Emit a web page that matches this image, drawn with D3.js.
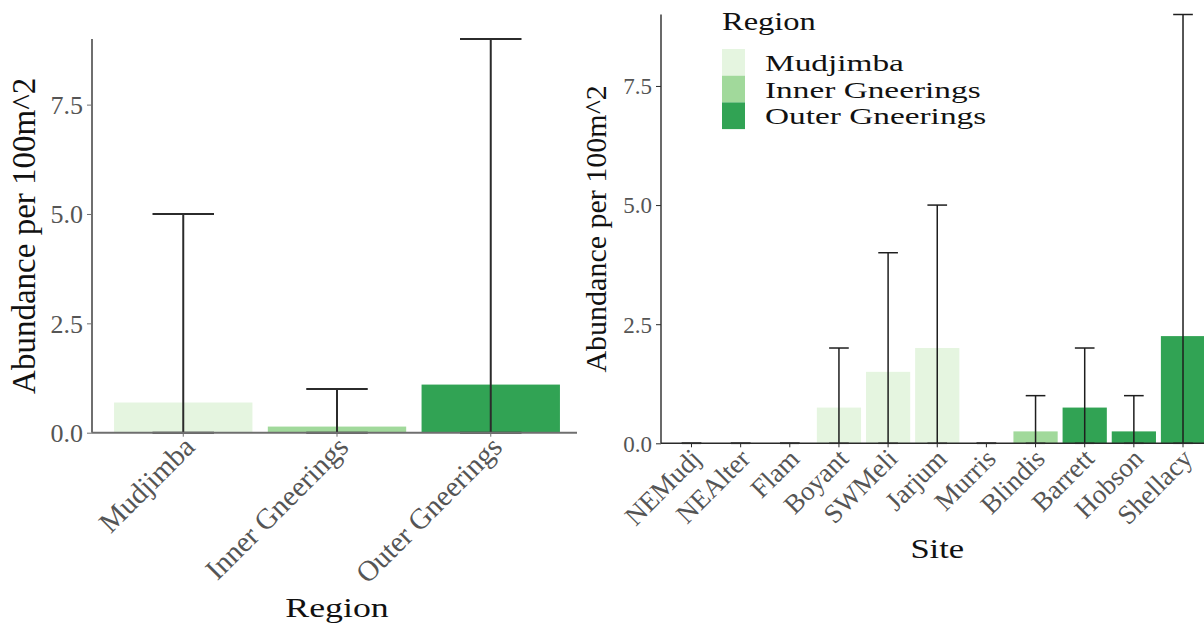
<!DOCTYPE html>
<html>
<head>
<meta charset="utf-8">
<script src="https://cdn.jsdelivr.net/npm/d3@7"></script>
<style>
  body { margin: 0; background: #fff; }
  svg { display: block; }
  text { font-family: "Liberation Serif", "Times New Roman", serif; }
</style>
</head>
<body>
<svg id="chart" width="1204" height="624"></svg>
<script>
// Abundance by region
const regions      = ["Mudjimba", "Inner Gneerings", "Outer Gneerings"];
const regionMeans  = [0.69, 0.14, 1.1];
const regionLower  = [0, 0, 0];
const regionUpper  = [5, 1, 9];

// Abundance by site
const sites       = ["NEMudj", "NEAlter", "Flam", "Boyant", "SWMeli", "Jarjum", "Murris", "Blindis", "Barrett", "Hobson", "Shellacy"];
const siteRegion  = ["Mudjimba", "Mudjimba", "Mudjimba", "Mudjimba", "Mudjimba", "Mudjimba", "Mudjimba", "Inner Gneerings", "Outer Gneerings", "Outer Gneerings", "Outer Gneerings"];
const siteMeans   = [0, 0, 0, 0.75, 1.5, 2, 0, 0.25, 0.75, 0.25, 2.25];
const siteLower   = [0, 0, 0, 0, 0, 0, 0, 0, 0, 0, 0];
const siteUpper   = [0, 0, 0, 2, 4, 5, 0, 1, 2, 1, 9];

const yTicks = [0, 2.5, 5, 7.5];
const yMax = 9;
const yTitle = "Abundance per 100m^2";
const regionColors = ["#e5f5e0", "#a1d99b", "#31a354"];

const svg = d3.select("#chart");
const colour = d3.scaleOrdinal().domain(regions).range(regionColors);

function stretchedText(g, x, y, str, size, sx, anchor, fill) {
  return g.append("text")
    .attr("transform", `translate(${x},${y}) scale(${sx},1)`)
    .attr("text-anchor", anchor)
    .attr("font-size", size)
    .attr("fill", fill)
    .text(str);
}

function drawPanel(cfg) {
  const g = svg.append("g");
  const x = d3.scaleBand()
    .domain(cfg.cats)
    .range([cfg.x0, cfg.x1])
    .paddingInner(0.1)
    .paddingOuter(0.15);
  const y = d3.scaleLinear().domain([0, yMax]).range([cfg.yBottom, cfg.yTop]);
  const data = cfg.cats.map((c, i) => ({
    cat: c, mean: cfg.means[i], lo: cfg.lower[i], hi: cfg.upper[i], region: cfg.region[i]
  }));

  // bars
  g.append("g").selectAll("rect").data(data).join("rect")
    .attr("x", d => x(d.cat))
    .attr("width", x.bandwidth())
    .attr("y", d => y(d.mean))
    .attr("height", d => y(0) - y(d.mean))
    .attr("fill", d => colour(d.region));

  // error bars
  const capW = x.step() * 0.4;
  const eb = g.append("g").attr("stroke", cfg.errColor).attr("stroke-width", cfg.errWidth);
  const cx = d => x(d.cat) + x.bandwidth() / 2;
  eb.selectAll("line.v").data(data).join("line").attr("class", "v")
    .attr("x1", cx).attr("x2", cx)
    .attr("y1", d => y(d.lo)).attr("y2", d => y(d.hi));
  eb.selectAll("line.top").data(data).join("line").attr("class", "top")
    .attr("x1", d => cx(d) - capW / 2).attr("x2", d => cx(d) + capW / 2)
    .attr("y1", d => y(d.hi)).attr("y2", d => y(d.hi));
  eb.selectAll("line.bot").data(data).join("line").attr("class", "bot")
    .attr("x1", d => cx(d) - capW / 2).attr("x2", d => cx(d) + capW / 2)
    .attr("y1", d => y(d.lo)).attr("y2", d => y(d.lo));

  // y axis
  const ya = g.append("g")
    .attr("transform", `translate(${cfg.axisX},0)`)
    .call(d3.axisLeft(y).tickValues(yTicks).tickFormat(d3.format(".1f")).tickSize(5).tickPadding(4).tickSizeOuter(0));
  ya.select(".domain").remove();
  ya.selectAll(".tick line").attr("stroke", cfg.axisColor).attr("stroke-width", 1);
  ya.selectAll(".tick text").attr("font-size", cfg.tickSize).attr("fill", "#555")
    .attr("font-family", '"Liberation Serif", serif').attr("dy", "0.34em");
  g.append("line")
    .attr("x1", cfg.axisX).attr("x2", cfg.axisX)
    .attr("y1", y(yMax)).attr("y2", y(0))
    .attr("stroke", cfg.axisColor).attr("stroke-width", cfg.axisWidth);

  // x axis
  const xa = g.append("g")
    .attr("transform", `translate(0,${y(0)})`)
    .call(d3.axisBottom(x).tickSize(4).tickSizeOuter(0));
  xa.select(".domain").remove();
  xa.selectAll(".tick line").attr("stroke", cfg.axisColor).attr("stroke-width", 1);
  xa.selectAll(".tick text")
    .attr("x", null).attr("y", null).attr("dy", null)
    .attr("text-anchor", "end")
    .attr("transform", `translate(${cfg.labelDx},${cfg.labelDy}) rotate(-45)`)
    .attr("font-size", cfg.labelSize).attr("fill", "#555")
    .attr("font-family", '"Liberation Serif", serif');
  g.append("line")
    .attr("x1", cfg.axisX).attr("x2", cfg.xLineEnd)
    .attr("y1", y(0)).attr("y2", y(0))
    .attr("stroke", cfg.axisColor).attr("stroke-width", cfg.axisWidth);

  // axis titles
  g.append("text")
    .attr("transform", `translate(${cfg.yTitleX},${(y(0) + y(yMax)) / 2}) rotate(-90)`)
    .attr("text-anchor", "middle")
    .attr("font-size", cfg.yTitleSize)
    .attr("fill", "#111")
    .text(yTitle);
  stretchedText(g, (cfg.x0 + cfg.x1) / 2, cfg.xTitleY, cfg.xTitle, cfg.xTitleSize, 1.28, "middle", "#111");

  return { g, x, y };
}

// Left panel: by region
drawPanel({
  cats: regions, means: regionMeans, lower: regionLower, upper: regionUpper, region: regions,
  x0: 91, x1: 583, xLineEnd: 577, axisX: 92, yBottom: 432.7, yTop: 39,
  axisColor: "#6f6f6f", axisWidth: 2, errColor: "#2b2b2b", errWidth: 2,
  tickSize: 26, labelSize: 29, labelDx: 13, labelDy: 16,
  yTitleX: 35, yTitleSize: 33, xTitle: "Region", xTitleY: 617, xTitleSize: 28
});

// Right panel: by site
const right = drawPanel({
  cats: sites, means: siteMeans, lower: siteLower, upper: siteUpper, region: siteRegion,
  x0: 662, x1: 1212.5, xLineEnd: 1212.5, axisX: 661, yBottom: 443.3, yTop: 14.5,
  axisColor: "#2a2a2a", axisWidth: 1.4, errColor: "#1e1e1e", errWidth: 1.5,
  tickSize: 23, labelSize: 27, labelDx: 11, labelDy: 17,
  yTitleX: 606, yTitleSize: 30, xTitle: "Site", xTitleY: 558, xTitleSize: 27
});

// Legend
const lg = right.g.append("g");
stretchedText(lg, 722, 30, "Region", 25, 1.3, "start", "#111");
const keyH = 26.7, keyTop = 49;
regions.forEach((r, i) => {
  lg.append("rect")
    .attr("x", 722).attr("y", keyTop + i * keyH)
    .attr("width", 23).attr("height", keyH)
    .attr("fill", colour(r));
  stretchedText(lg, 765, keyTop + i * keyH + 22, r, 23, 1.45, "start", "#111");
});
</script>
</body>
</html>
